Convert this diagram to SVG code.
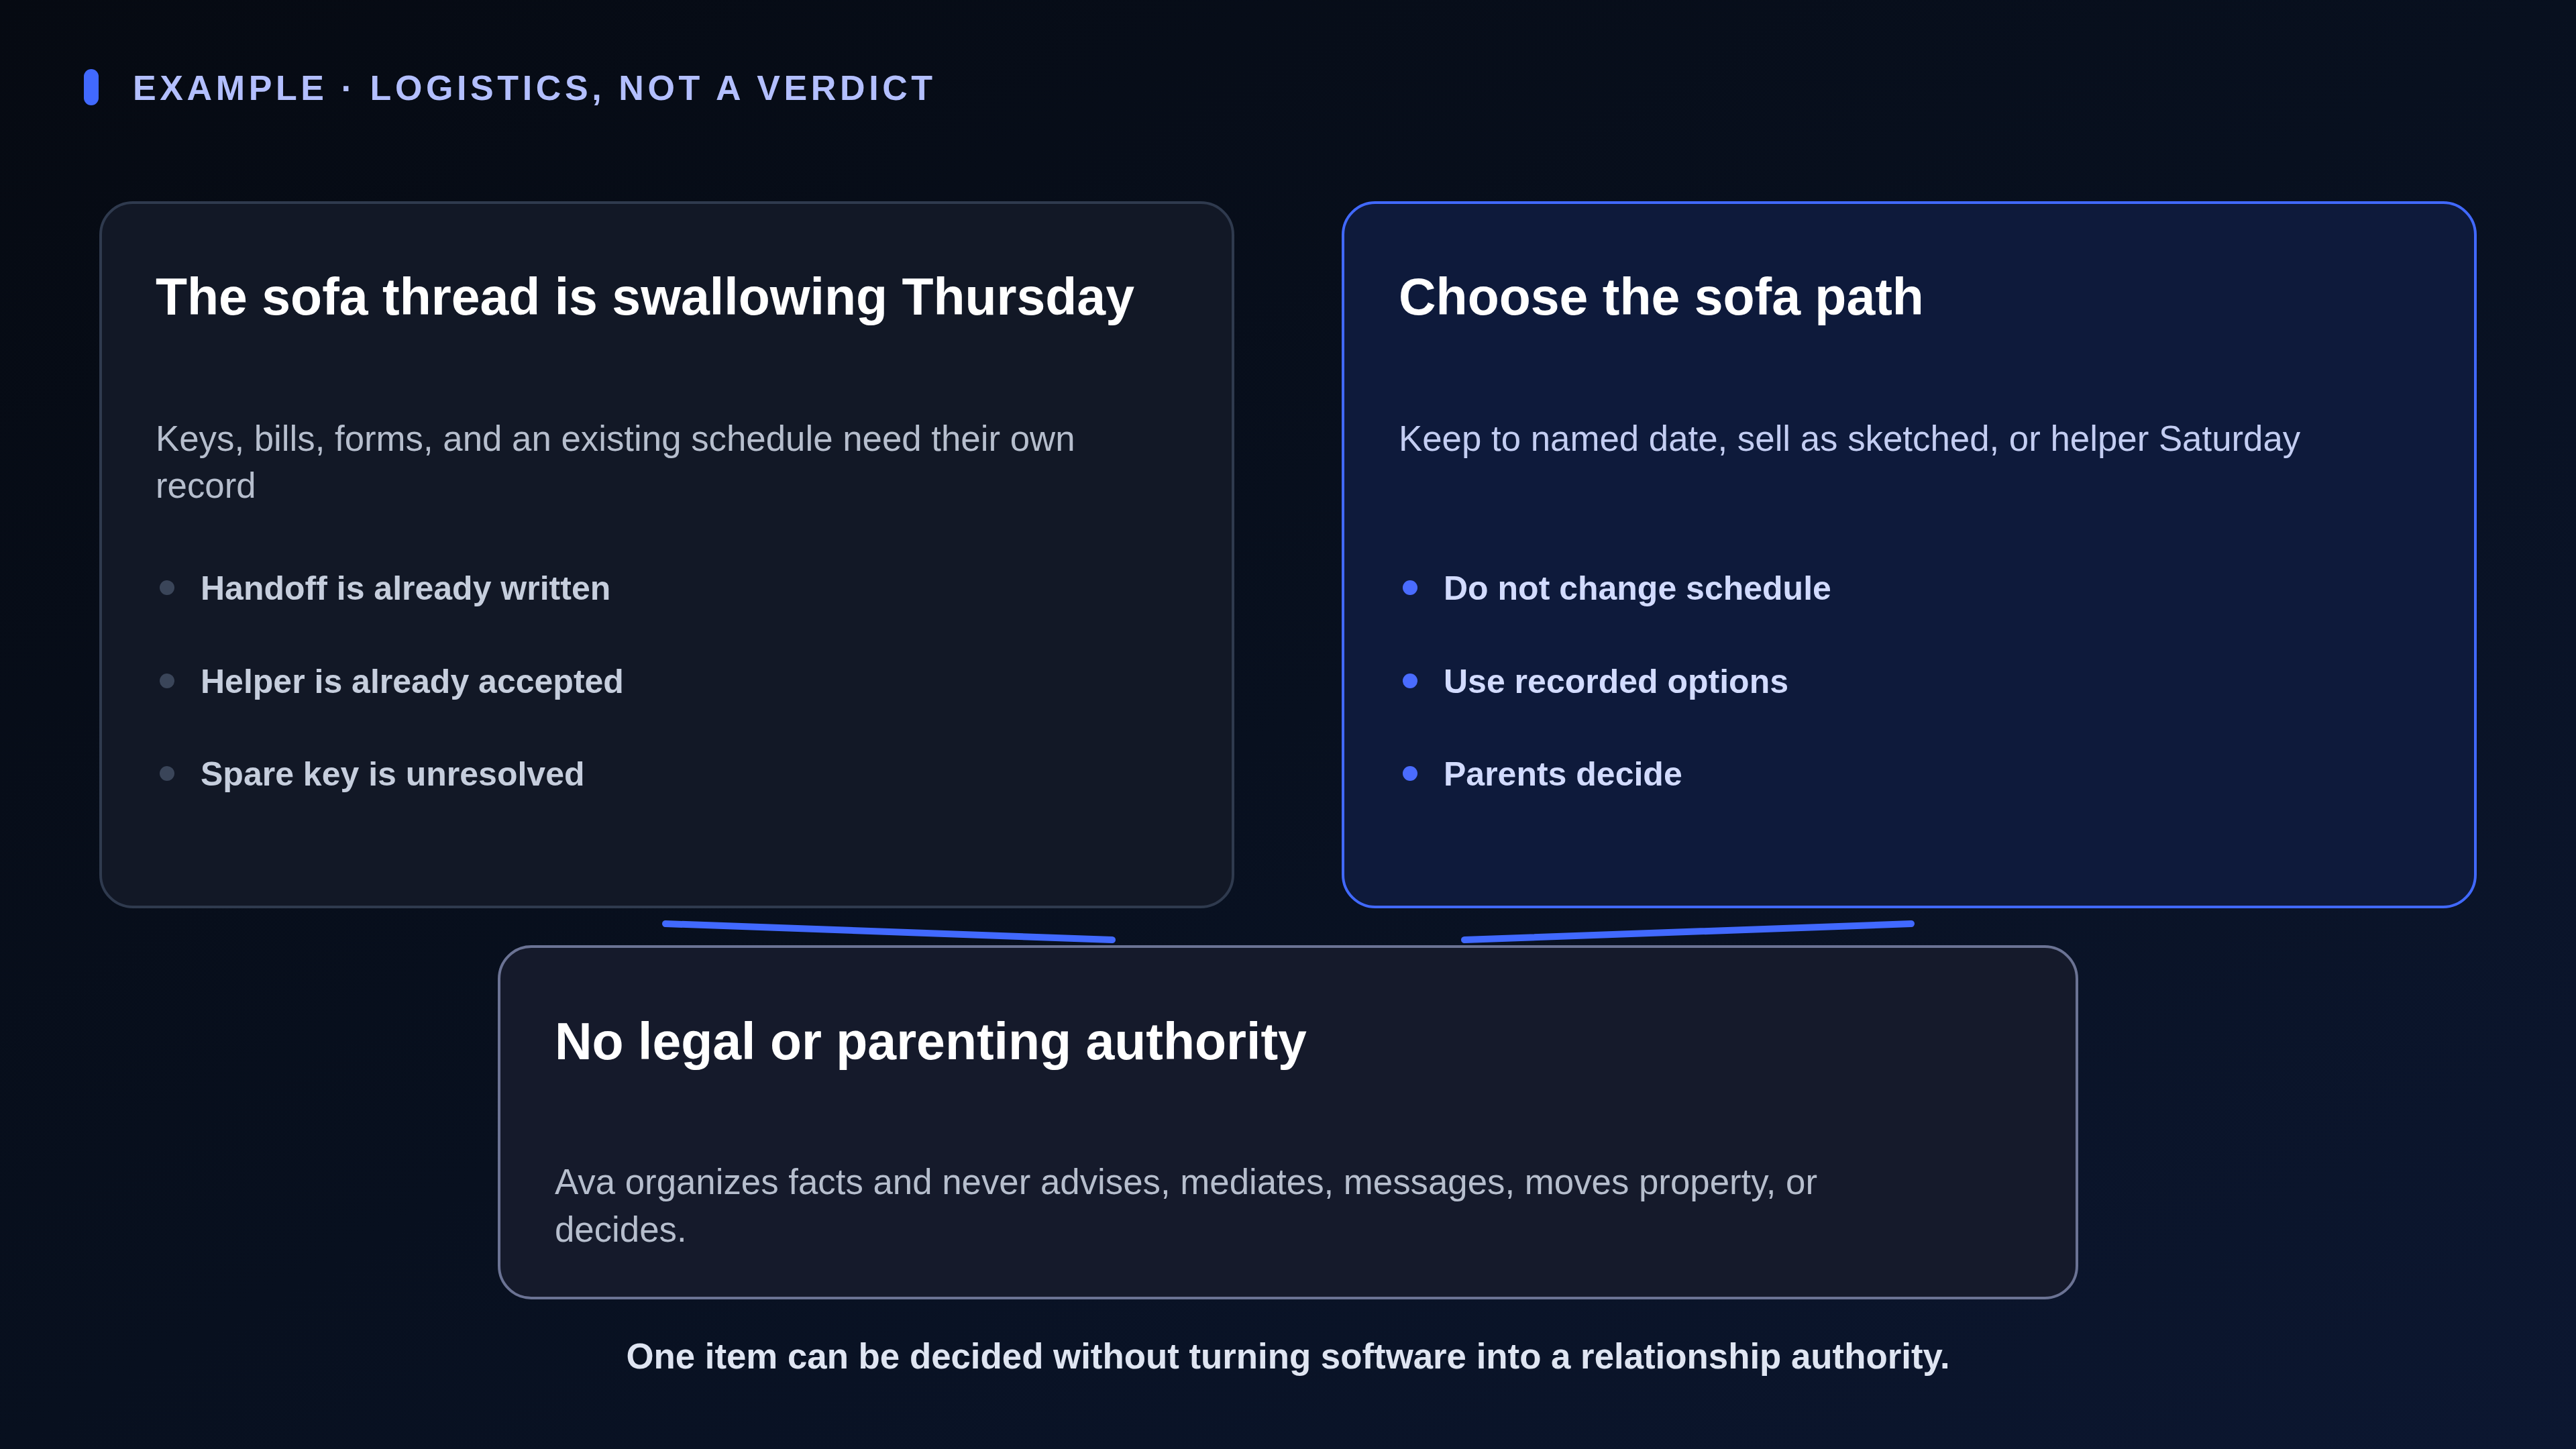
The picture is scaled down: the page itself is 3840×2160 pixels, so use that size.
<svg xmlns="http://www.w3.org/2000/svg" width="3840" height="2160" viewBox="0 0 3840 2160">
  <defs>
    <linearGradient id="bg" x1="0" y1="0" x2="1" y2="1">
      <stop offset="0" stop-color="#060a12"/>
      <stop offset="0.5" stop-color="#08101f"/>
      <stop offset="1" stop-color="#0c1731"/>
    </linearGradient>
    <style>
      text { font-family: "Liberation Sans", Arial, Helvetica, sans-serif; }
      .eyebrow { font-size: 52px; font-weight: 700; fill: #b3bfff; letter-spacing: 5.6px; }
      .title { font-size: 77px; font-weight: 700; fill: #ffffff; }
      .sub { font-size: 52.8px; fill: #b6becd; }
      .subBlue { font-size: 52.8px; fill: #c3cdf2; }
      .item { font-size: 50px; font-weight: 700; fill: #c6cedd; }
      .itemBlue { font-size: 50px; font-weight: 700; fill: #d2dbff; }
      .dot { fill: #3a4559; }
      .dotBlue { fill: #4a6cff; }
      .card { fill: #121826; stroke: #2f3a4e; stroke-width: 4; }
      .cardBlue { fill: #0e1a3b; stroke: #4169ff; stroke-width: 4; }
      .cardBottom { fill: #151a2b; stroke: #6b7394; stroke-width: 4; }
      .conn { stroke: #4169ff; stroke-width: 10; stroke-linecap: round; fill: none; }
      .footer { font-size: 52.8px; font-weight: 700; fill: #dfe5f2; }
    </style>
  </defs>

  <rect x="0" y="0" width="3840" height="2160" fill="url(#bg)"/>

  <g id="header">
    <rect x="125" y="103" width="22" height="54" rx="11" fill="#4169ff"/>
    <text class="eyebrow" x="198" y="149">EXAMPLE · LOGISTICS, NOT A VERDICT</text>
  </g>

  <g id="connectors">
    <line class="conn" x1="992" y1="1377" x2="1658" y2="1401"/>
    <line class="conn" x1="2849" y1="1377" x2="2183" y2="1401"/>
  </g>

  <g id="node-thread">
    <rect class="card" x="150" y="302" width="1688" height="1050" rx="48"/>
    <text class="title" x="232" y="469">The sofa thread is swallowing Thursday</text>
    <text class="sub" x="232" y="672">Keys, bills, forms, and an existing schedule need their own</text>
    <text class="sub" x="232" y="742">record</text>
    <circle class="dot" cx="249" cy="876" r="11"/>
    <text class="item" x="299" y="894">Handoff is already written</text>
    <circle class="dot" cx="249" cy="1015" r="11"/>
    <text class="item" x="299" y="1033">Helper is already accepted</text>
    <circle class="dot" cx="249" cy="1153" r="11"/>
    <text class="item" x="299" y="1171">Spare key is unresolved</text>
  </g>

  <g id="node-path">
    <rect class="cardBlue" x="2002" y="302" width="1688" height="1050" rx="48"/>
    <text class="title" x="2085" y="469">Choose the sofa path</text>
    <text class="subBlue" x="2085" y="672">Keep to named date, sell as sketched, or helper Saturday</text>
    <circle class="dotBlue" cx="2102" cy="876" r="11"/>
    <text class="itemBlue" x="2152" y="894">Do not change schedule</text>
    <circle class="dotBlue" cx="2102" cy="1015" r="11"/>
    <text class="itemBlue" x="2152" y="1033">Use recorded options</text>
    <circle class="dotBlue" cx="2102" cy="1153" r="11"/>
    <text class="itemBlue" x="2152" y="1171">Parents decide</text>
  </g>

  <g id="node-authority">
    <rect class="cardBottom" x="744" y="1411" width="2352" height="524" rx="48"/>
    <text class="title" x="827" y="1579">No legal or parenting authority</text>
    <text class="sub" x="827" y="1780">Ava organizes facts and never advises, mediates, messages, moves property, or</text>
    <text class="sub" x="827" y="1851">decides.</text>
  </g>

  <g id="footer">
    <text class="footer" x="1920" y="2040" text-anchor="middle">One item can be decided without turning software into a relationship authority.</text>
  </g>
</svg>
